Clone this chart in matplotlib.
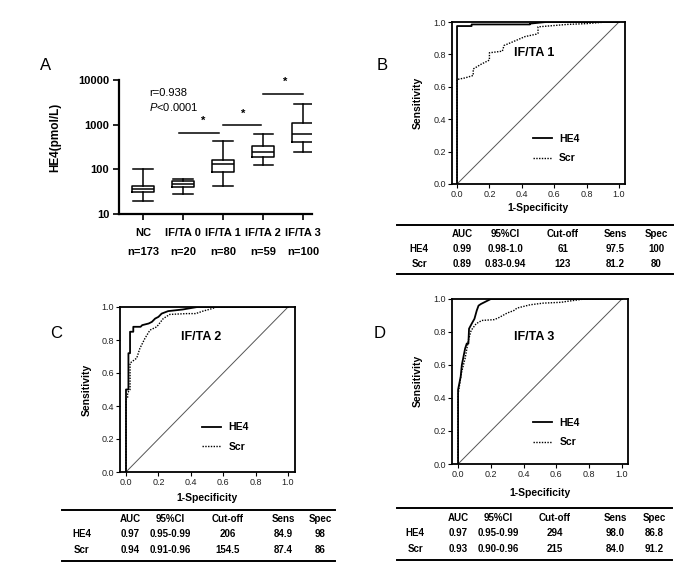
import matplotlib.pyplot as plt
from matplotlib.lines import Line2D
from matplotlib.ticker import NullLocator

plt.rcParams['font.family'] = ['Liberation Sans', 'DejaVu Sans']
plt.rcParams['mathtext.fontset'] = 'custom'
plt.rcParams['mathtext.it'] = 'Liberation Sans:italic'
plt.rcParams['mathtext.rm'] = 'Liberation Sans'

# panel A: box plot data (pmol/L)
groups = ['NC', 'IF/TA 0', 'IF/TA 1', 'IF/TA 2', 'IF/TA 3']
group_n = ['n=173', 'n=20', 'n=80', 'n=59', 'n=100']
whis_lo = [19.5, 28, 42, 128, 240]
q1 = [31, 40, 86, 185, 400]
med = [36, 46, 135, 240, 620]
q3 = [42, 54, 165, 330, 1100]
whis_hi = [100, 60, 440, 630, 2950]

sig_x0 = [0.9, 2.0, 3.0]
sig_x1 = [1.9, 2.95, 4.0]
sig_y = [660, 1000, 4900]
star_x = [1.5, 2.5, 3.55]
star_y = [1230, 1750, 9000]

# ROC curves
b_he4_x = [0, 0, 0.09, 0.09, 0.45, 0.45, 0.55, 1.0]
b_he4_y = [0, 0.975, 0.975, 0.985, 0.985, 0.99, 1.0, 1.0]
b_scr_x = [0, 0, 0.05, 0.10, 0.10, 0.15, 0.20, 0.20, 0.28, 0.29, 0.35, 0.42, 0.49, 0.50, 0.50, 0.68, 0.80, 0.92, 1.0]
b_scr_y = [0, 0.645, 0.655, 0.67, 0.71, 0.74, 0.765, 0.81, 0.82, 0.855, 0.88, 0.91, 0.925, 0.93, 0.97, 0.985, 0.99, 1.0, 1.0]

c_he4_x = [0, 0, 0.015, 0.015, 0.025, 0.025, 0.045, 0.045, 0.09, 0.10, 0.14, 0.16, 0.18, 0.20, 0.22, 0.26, 0.35, 0.44, 1.0]
c_he4_y = [0, 0.50, 0.50, 0.72, 0.72, 0.85, 0.85, 0.88, 0.88, 0.89, 0.90, 0.91, 0.93, 0.94, 0.96, 0.975, 0.985, 1.0, 1.0]
c_scr_x = [0, 0, 0.01, 0.01, 0.025, 0.025, 0.066, 0.086, 0.117, 0.148, 0.19, 0.23, 0.27, 0.375, 0.43, 0.475, 0.53, 0.56, 1.0]
c_scr_y = [0, 0.44, 0.45, 0.48, 0.50, 0.66, 0.69, 0.75, 0.81, 0.86, 0.88, 0.93, 0.955, 0.96, 0.96, 0.975, 0.99, 1.0, 1.0]

d_he4_x = [0, 0, 0.016, 0.023, 0.033, 0.043, 0.053, 0.063, 0.067, 0.083, 0.10, 0.114, 0.125, 0.14, 0.17, 0.20, 1.0]
d_he4_y = [0, 0.45, 0.53, 0.60, 0.65, 0.70, 0.73, 0.73, 0.82, 0.85, 0.88, 0.93, 0.96, 0.97, 0.985, 1.0, 1.0]
d_scr_x = [0, 0, 0.02, 0.043, 0.063, 0.08, 0.11, 0.145, 0.22, 0.245, 0.30, 0.34, 0.36, 0.44, 0.52, 0.63, 0.66, 0.77, 1.0]
d_scr_y = [0, 0.42, 0.55, 0.64, 0.75, 0.81, 0.85, 0.87, 0.875, 0.885, 0.915, 0.93, 0.945, 0.965, 0.975, 0.98, 0.985, 1.0, 1.0]

# tables
tab_cols = ['AUC', '95%CI', 'Cut-off', 'Sens', 'Spec']
tab_b_he4 = ['0.99', '0.98-1.0', '61', '97.5', '100']
tab_b_scr = ['0.89', '0.83-0.94', '123', '81.2', '80']
tab_c_he4 = ['0.97', '0.95-0.99', '206', '84.9', '98']
tab_c_scr = ['0.94', '0.91-0.96', '154.5', '87.4', '86']
tab_d_he4 = ['0.97', '0.95-0.99', '294', '98.0', '86.8']
tab_d_scr = ['0.93', '0.90-0.96', '215', '84.0', '91.2']

W, H = 700, 584
fig = plt.figure(figsize=(7, 5.84), dpi=100)


def P(x, y):
    return x / W, 1 - y / H


def rect(x0, y0, x1, y1):
    return [x0 / W, 1 - y1 / H, (x1 - x0) / W, (y1 - y0) / H]


# ---- panel A
axA = fig.add_axes(rect(119, 80, 312, 214))
stats = []
for i in range(len(groups)):
    stats.append({'whislo': whis_lo[i], 'q1': q1[i], 'med': med[i], 'q3': q3[i],
                  'whishi': whis_hi[i], 'fliers': []})
lp = {'color': 'black', 'linewidth': 1.1}
axA.bxp(stats, positions=range(len(groups)), widths=0.55, capwidths=0.48,
        boxprops=lp, whiskerprops=lp, capprops=lp, medianprops=lp,
        showfliers=False, manage_ticks=False)
axA.set_yscale('log')
axA.set_ylim(10, 10000)
axA.set_xlim(-0.6, 4.22)
axA.set_yticks([10, 100, 1000, 10000])
axA.set_yticklabels(['10', '100', '1000', '10000'], fontweight='bold', fontsize=8)
axA.yaxis.set_minor_locator(NullLocator())
axA.set_xticks(range(len(groups)))
axA.set_xticklabels(groups, fontweight='bold', fontsize=8)
axA.tick_params(direction='out', length=4, width=1.2, pad=3)
axA.tick_params(axis='x', pad=6)
for s in ['top', 'right']:
    axA.spines[s].set_visible(False)
for s in ['left', 'bottom']:
    axA.spines[s].set_linewidth(1.6)
for i in range(len(sig_y)):
    axA.plot([sig_x0[i], sig_x1[i]], [sig_y[i], sig_y[i]], color='black', lw=1.1)
    axA.text(star_x[i], star_y[i], '*', ha='center', va='center', fontsize=8, fontweight='bold')
for i, n in enumerate(group_n):
    axA.text(i, -0.28, n, transform=axA.get_xaxis_transform(), ha='center', va='center',
             fontsize=8, fontweight='bold')
axA.text(0.155, 0.90, 'r=0.938', transform=axA.transAxes, ha='left', va='center', fontsize=8)
axA.text(0.155, 0.80, r'$\it{P}$<0.0001', transform=axA.transAxes, ha='left', va='center', fontsize=8)
fig.text(*P(55, 137), 'HE4(pmol/L)', rotation=90, ha='center', va='center', fontsize=8.5, fontweight='bold')


# ---- ROC panels
def roc(box, hx, hy, sx, sy, title, tpos, lpos, xlim):
    ax = fig.add_axes(rect(*box))
    ax.plot([0, 1], [0, 1], color='#555555', lw=0.7)
    ax.plot(hx, hy, color='black', lw=1.3, label='HE4')
    ax.plot(sx, sy, color='black', lw=1.0, ls=(0, (1, 1)), label='Scr')
    ax.set_xlim(*xlim)
    ax.set_ylim(0, 1)
    ticks = [0, 0.2, 0.4, 0.6, 0.8, 1.0]
    ax.set_xticks(ticks)
    ax.set_yticks(ticks)
    ax.set_xticklabels(['%.1f' % t for t in ticks])
    ax.set_yticklabels(['%.1f' % t for t in ticks])
    ax.tick_params(direction='out', length=3, width=0.8, labelsize=6.5, labelcolor='#222222', pad=1.5)
    for s in ax.spines.values():
        s.set_linewidth(1.3)
    ax.text(tpos[0], tpos[1], title, transform=ax.transAxes, ha='center', va='center',
            fontsize=9, fontweight='bold')
    ax.legend(loc='center left', bbox_to_anchor=lpos, frameon=False, handlelength=1.85,
              handletextpad=0.7, labelspacing=0.9, borderpad=0, borderaxespad=0,
              prop={'weight': 'bold', 'size': 7.5})
    return ax


roc((452, 22, 625, 184), b_he4_x, b_he4_y, b_scr_x, b_scr_y, 'IF/TA 1', (0.474, 0.81), (0.466, 0.219), (-0.031, 1.037))
roc((120, 307, 295, 472), c_he4_x, c_he4_y, c_scr_x, c_scr_y, 'IF/TA 2', (0.461, 0.82), (0.467, 0.213), (-0.037, 1.043))
roc((452, 299, 628, 464), d_he4_x, d_he4_y, d_scr_x, d_scr_y, 'IF/TA 3', (0.466, 0.77), (0.46, 0.19), (-0.037, 1.037))

for (x, y) in [(418, 103), (87, 390), (418, 381)]:
    fig.text(*P(x, y), 'Sensitivity', rotation=90, ha='center', va='center', fontsize=7.5, fontweight='bold')
for (x, y) in [(538, 208), (207, 498), (540, 493)]:
    fig.text(*P(x, y), '1-Specificity', ha='center', va='center', fontsize=7.5, fontweight='bold')

for lab, (x, y) in zip('ABCD', [(46, 65), (382, 65), (56, 333), (380, 333)]):
    fig.text(*P(x, y), lab, ha='center', va='center', fontsize=12)


# ---- tables
def table(x0, x1, ytop, ybot, yrows, cols, he4, scr):
    for y in (ytop, ybot):
        fig.add_artist(Line2D([x0 / W, x1 / W], [1 - y / H, 1 - y / H], color='black', lw=1.4,
                              transform=fig.transFigure))
    rows = [[''] + tab_cols, ['HE4'] + he4, ['Scr'] + scr]
    for row, y in zip(rows, yrows):
        for txt, x in zip(row, cols):
            fig.text(*P(x, y), txt, ha='center', va='center', fontsize=7, fontweight='bold')


table(397, 673, 225, 274, [234, 249, 264], [419, 462, 505, 563, 615, 656], tab_b_he4, tab_b_scr)
table(62, 335, 510, 561, [519, 534, 550], [82, 130, 170, 228, 283, 320], tab_c_he4, tab_c_scr)
table(397, 672, 508, 560, [518, 533, 549], [415, 458, 498, 555, 615, 654], tab_d_he4, tab_d_scr)

fig.savefig('out.png', dpi=100)
